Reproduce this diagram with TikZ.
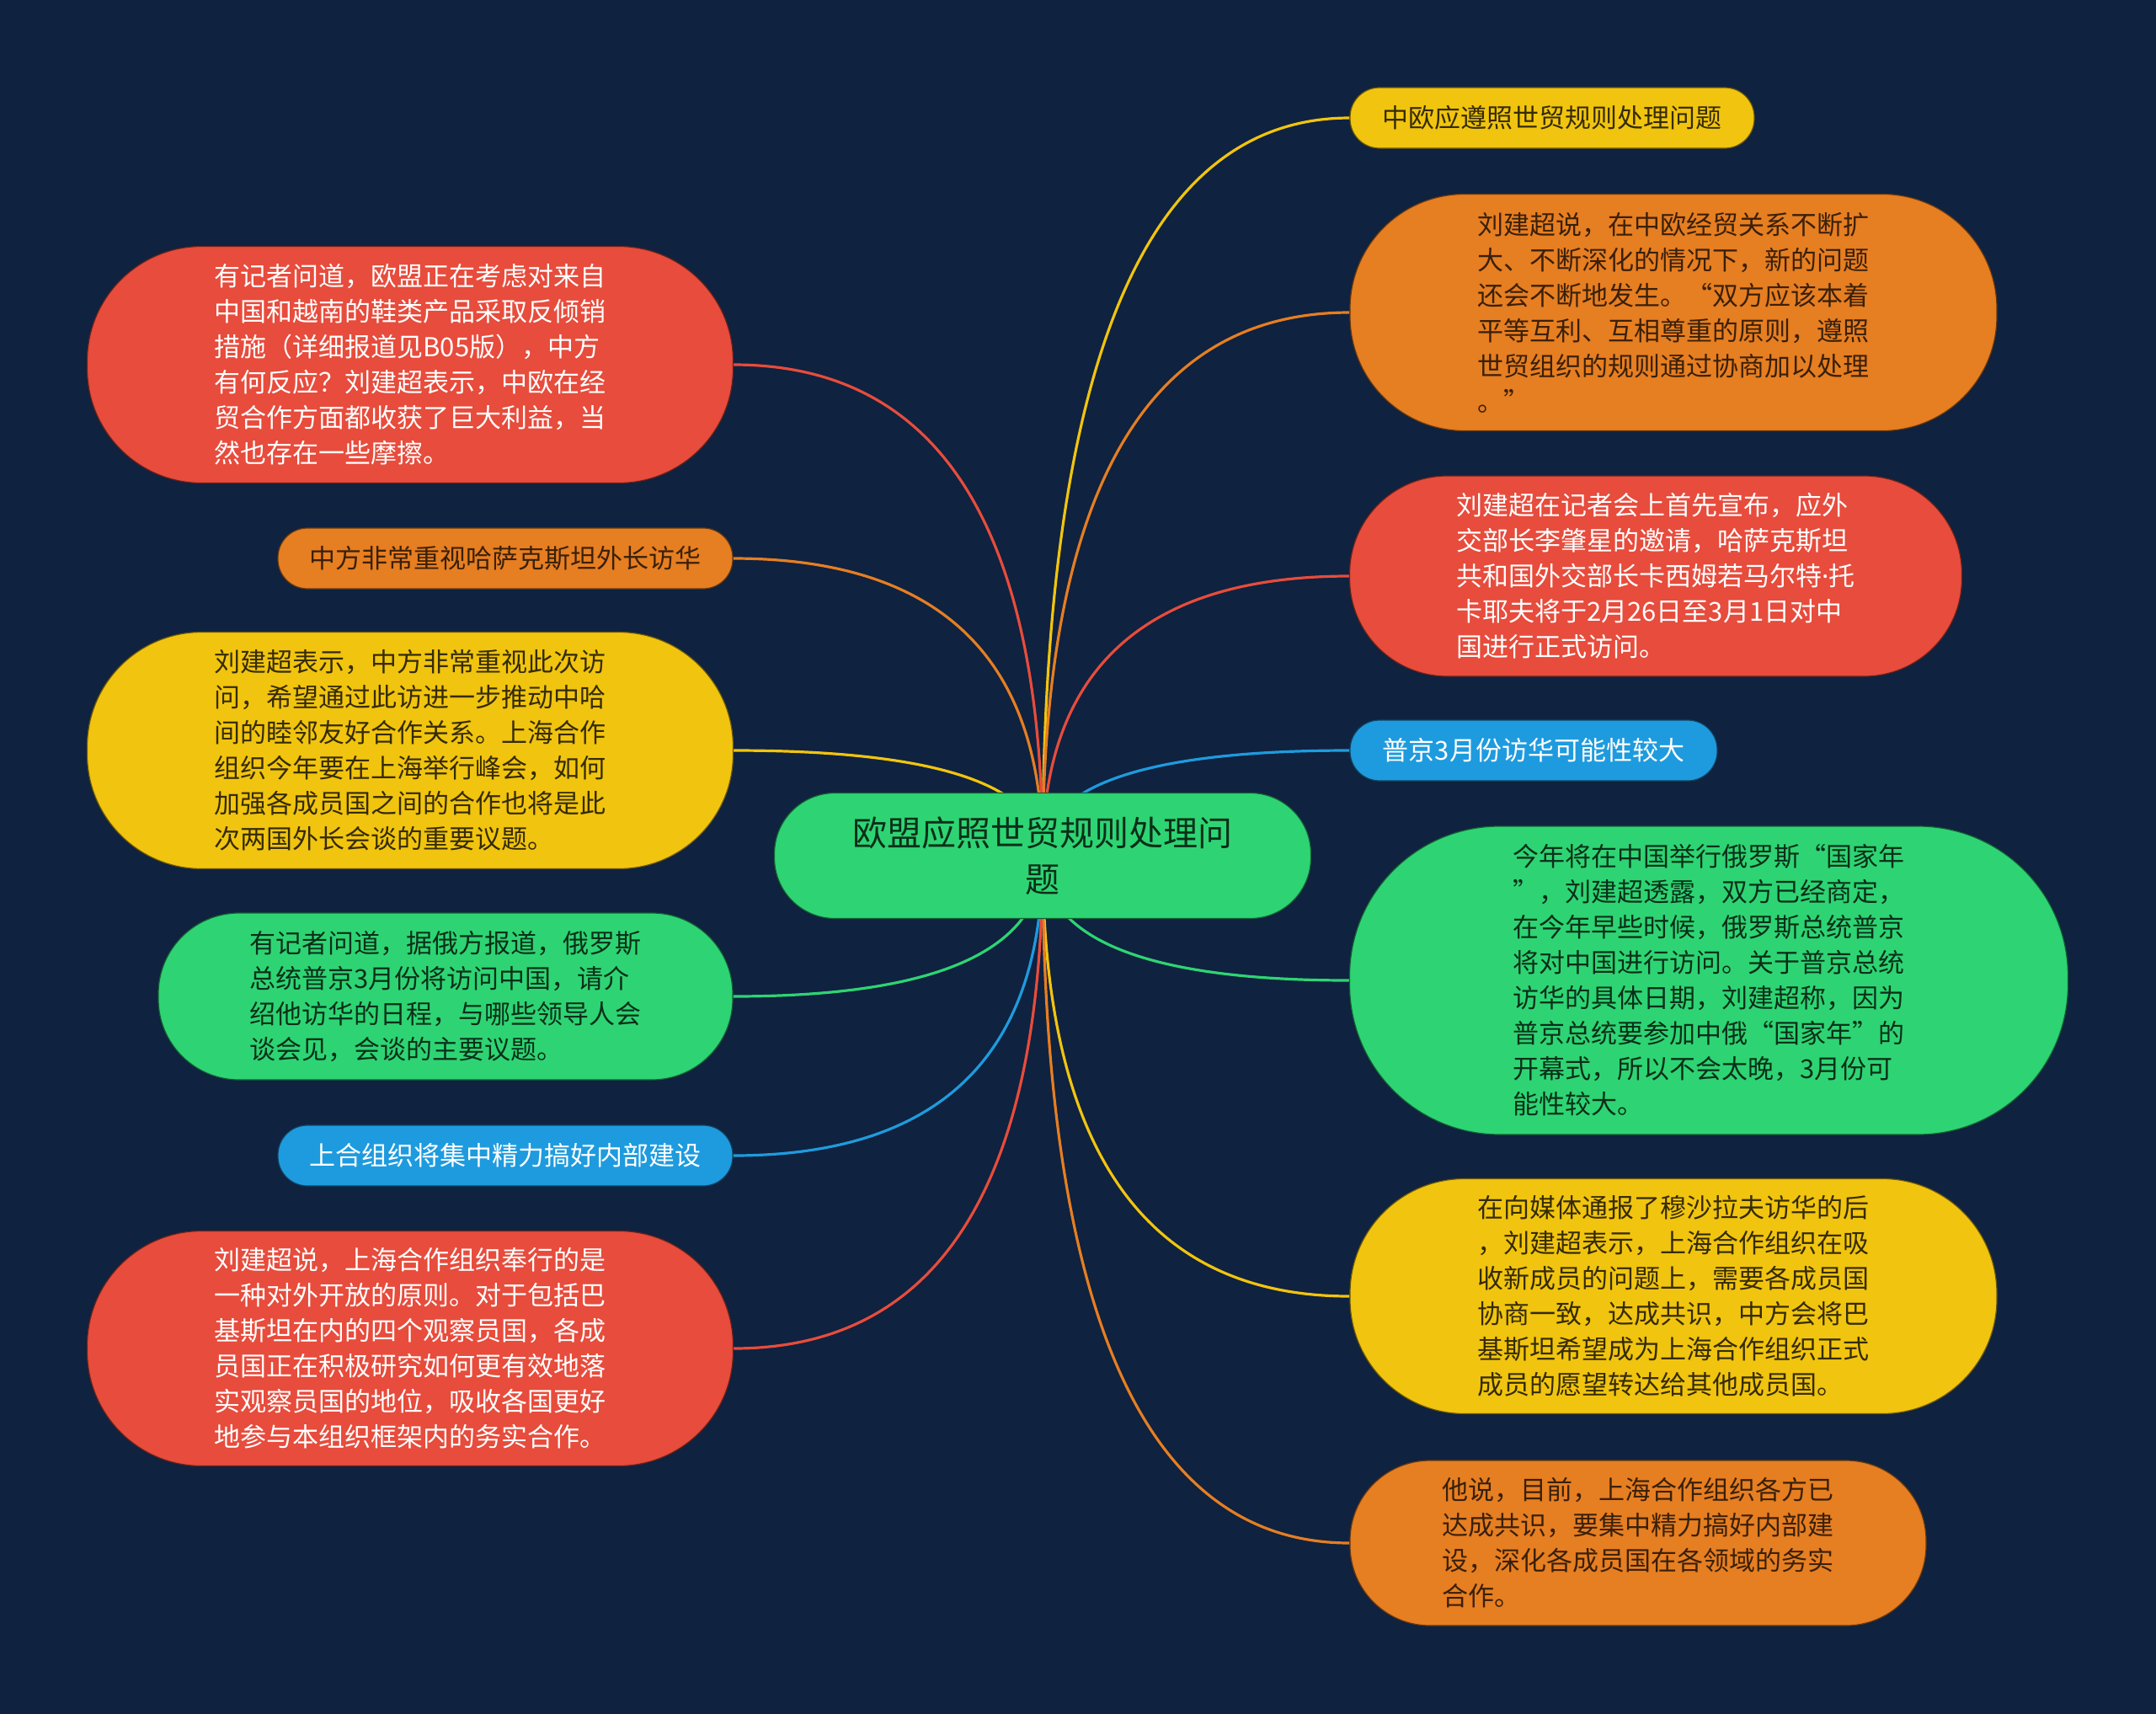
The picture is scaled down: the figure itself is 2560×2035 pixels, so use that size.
\documentclass[tikz,border=0pt]{standalone}
\usepackage{fontspec}
\newfontfamily\cjk{Noto Sans CJK SC}
\newfontfamily\latn{Noto Sans}
\usetikzlibrary{calc}
\definecolor{bgc}{RGB}{15,34,63}
\definecolor{cyel}{RGB}{241,196,15}
\definecolor{corg}{RGB}{230,126,34}
\definecolor{cred}{RGB}{231,76,60}
\definecolor{cgrn}{RGB}{46,212,115}
\definecolor{cblu}{RGB}{30,155,222}
\pgfdeclarelayer{bglayer}
\pgfdeclarelayer{linklayer}
\pgfsetlayers{bglayer,linklayer,main}
\newcommand\mmlink[3]{\draw[line width=3.2pt,#1] (root.center) .. controls ($(root.center)!0.6667!(root.center |- #2.#3)$) and ($(#2.#3)!0.6667!(root.center |- #2.#3)$) .. (#2.#3);}
\begin{document}
\begin{tikzpicture}[x=1pt,y=-1pt,
  box/.style={inner sep=0pt, align=left, line width=1.2pt, font=\cjk\fontsize{31}{42}\selectfont},
  yelbox/.style={box, fill=cyel, draw=cyel!45!black, text=cyel!22!black},
  orgbox/.style={box, fill=corg, draw=corg!45!black, text=corg!25!black},
  redbox/.style={box, fill=cred, draw=cred!45!black, text=white},
  blubox/.style={box, fill=cblu, draw=cblu!45!black, text=white},
  grnbox/.style={box, fill=cgrn, draw=cgrn!45!black, text=cgrn!22!black},
  sz/.style n args={3}{minimum width=#1pt, minimum height=#2pt, rounded corners=#3pt}]
\useasboundingbox (0,0) rectangle (2560,2035);
\begin{pgfonlayer}{bglayer}
\fill[bgc] (0,0) rectangle (2560,2035);
\end{pgfonlayer}
% root
\node[grnbox, sz={637}{149}{72}, align=center, font=\cjk\fontsize{41}{55}\selectfont] (root) at (1238,1016) {欧盟应照世贸规则处理问\\题};
% right side
\node[yelbox, sz={480}{72}{35}] (r1) at (1843,140) {中欧应遵照世贸规则处理问题};
\node[orgbox, sz={768}{281}{136}] (r2) at (1987,371) {刘建超说，在中欧经贸关系不断扩\\大、不断深化的情况下，新的问题\\还会不断地发生。“双方应该本着\\平等互利、互相尊重的原则，遵照\\世贸组织的规则通过协商加以处理\\。”};
\node[redbox, sz={727}{238}{116}] (r3) at (1966,684) {刘建超在记者会上首先宣布，应外\\交部长李肇星的邀请，哈萨克斯坦\\共和国外交部长卡西姆若马尔特{\latn ·}托\\卡耶夫将于2月26日至3月1日对中\\国进行正式访问。};
\node[blubox, sz={436}{72}{35}] (r4) at (1821,891) {普京3月份访华可能性较大};
\node[grnbox, sz={853}{366}{178}] (r5) at (2029,1164) {今年将在中国举行俄罗斯“国家年\\”，刘建超透露，双方已经商定，\\在今年早些时候，俄罗斯总统普京\\将对中国进行访问。关于普京总统\\访华的具体日期，刘建超称，因为\\普京总统要参加中俄“国家年”的\\开幕式，所以不会太晚，3月份可\\能性较大。};
\node[yelbox, sz={768}{279}{136}] (r6) at (1987,1539) {在向媒体通报了穆沙拉夫访华的后\\，刘建超表示，上海合作组织在吸\\收新成员的问题上，需要各成员国\\协商一致，达成共识，中方会将巴\\基斯坦希望成为上海合作组织正式\\成员的愿望转达给其他成员国。};
\node[orgbox, sz={684}{196}{95}] (r7) at (1945,1832) {他说，目前，上海合作组织各方已\\达成共识，要集中精力搞好内部建\\设，深化各成员国在各领域的务实\\合作。};
% left side
\node[redbox, sz={767}{281}{136}] (l1) at (487,433) {有记者问道，欧盟正在考虑对来自\\中国和越南的鞋类产品采取反倾销\\措施（详细报道见B05版），中方\\有何反应？刘建超表示，中欧在经\\贸合作方面都收获了巨大利益，当\\然也存在一些摩擦。};
\node[orgbox, sz={540}{72}{35}] (l2) at (600,663) {中方非常重视哈萨克斯坦外长访华};
\node[yelbox, sz={767}{281}{136}] (l3) at (487,891) {刘建超表示，中方非常重视此次访\\问，希望通过此访进一步推动中哈\\间的睦邻友好合作关系。上海合作\\组织今年要在上海举行峰会，如何\\加强各成员国之间的合作也将是此\\次两国外长会谈的重要议题。};
\node[grnbox, sz={682}{198}{96}] (l4) at (529,1183) {有记者问道，据俄方报道，俄罗斯\\总统普京3月份将访问中国，请介\\绍他访华的日程，与哪些领导人会\\谈会见，会谈的主要议题。};
\node[blubox, sz={540}{72}{35}] (l5) at (600,1372) {上合组织将集中精力搞好内部建设};
\node[redbox, sz={767}{279}{136}] (l6) at (487,1601) {刘建超说，上海合作组织奉行的是\\一种对外开放的原则。对于包括巴\\基斯坦在内的四个观察员国，各成\\员国正在积极研究如何更有效地落\\实观察员国的地位，吸收各国更好\\地参与本组织框架内的务实合作。};
% connectors
\begin{pgfonlayer}{linklayer}
\mmlink{cyel}{r1}{west}
\mmlink{corg}{r2}{west}
\mmlink{cred}{r3}{west}
\mmlink{cblu}{r4}{west}
\mmlink{cgrn}{r5}{west}
\mmlink{cyel}{r6}{west}
\mmlink{corg}{r7}{west}
\mmlink{cred}{l1}{east}
\mmlink{corg}{l2}{east}
\mmlink{cyel}{l3}{east}
\mmlink{cgrn}{l4}{east}
\mmlink{cblu}{l5}{east}
\mmlink{cred}{l6}{east}
\end{pgfonlayer}
\end{tikzpicture}
\end{document}
